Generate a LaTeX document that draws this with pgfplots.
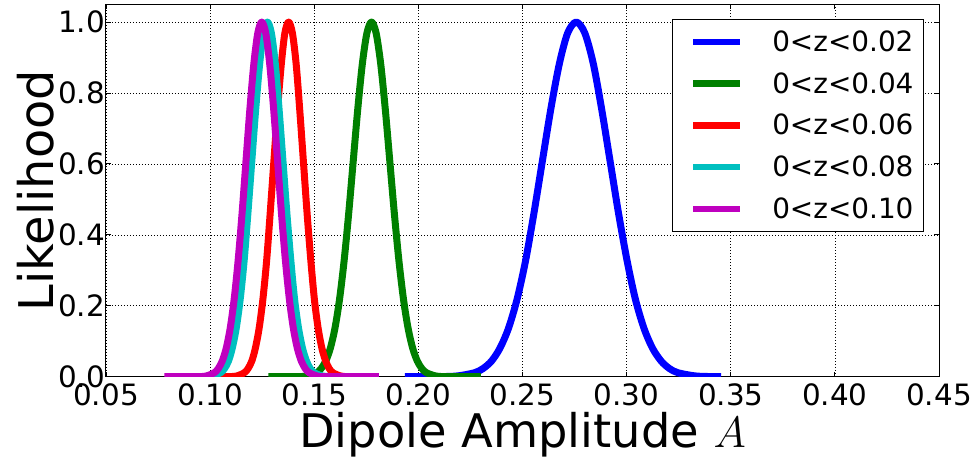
\documentclass[border=0pt]{standalone}
\usepackage{graphicx}
\usepackage{fontspec}
\setmainfont{DejaVu Sans}
\usepackage{pgfplots}
\pgfplotsset{compat=1.18}
\definecolor{mplblue}{rgb}{0,0,1}
\definecolor{mplgreen}{rgb}{0,0.5,0}
\definecolor{mplred}{rgb}{1,0,0}
\definecolor{mplcyan}{rgb}{0,0.75,0.75}
\definecolor{mplmag}{rgb}{0.75,0,0.75}
\begin{document}
\begin{tikzpicture}
\path[use as bounding box] (-106bp,-80.3bp) rectangle (874bp,376.7bp);
\begin{axis}[
  at={(0,0)}, anchor=south west,
  scale only axis, width=833bp, height=372.4bp,
  xmin=0.05, xmax=0.45, ymin=0, ymax=1.05,
  xtick={0.05,0.1,0.15,0.2,0.25,0.3,0.35,0.4,0.45},
  ytick={0,0.2,0.4,0.6,0.8,1.0},
  /pgf/number format/assume math mode=true,
  tick label style={font=\fontsize{29.5}{35}\selectfont},
  xticklabel style={/pgf/number format/.cd, fixed, fixed zerofill, precision=2, /tikz/.cd, anchor=north, inner sep=0pt, yshift=-6.8bp},
  yticklabel style={/pgf/number format/.cd, fixed, fixed zerofill, precision=1, /tikz/.cd, anchor=east, inner sep=0pt, xshift=-1bp},
  grid=major,
  grid style={black, line width=0.6bp, dash pattern=on 1bp off 2bp},
  tick align=inside, xtick pos=both, ytick pos=both,
  major tick length=5bp,
  tick style={black, line width=0.8bp},
  axis line style={black, line width=1bp},
  xlabel={Dipole Amplitude \resizebox{!}{30bp}{$A$}},
  ylabel={Likelihood},
  xlabel style={font=\fontsize{46.5}{52}\selectfont, at={(axis description cs:0.5,-0.189)}, anchor=base},
  ylabel style={font=\fontsize{48}{54}\selectfont, at={(axis description cs:-0.0625,0.5)}, anchor=base, rotate=0},
  legend style={at={(axis description cs:0.982,0.9605)}, anchor=north east,
    draw=black, line width=1bp, fill=white,
    inner xsep=10bp, inner ysep=11bp,
    font=\fontsize{28}{34}\selectfont,
    nodes={inner sep=0pt, text height=21bp, text depth=2bp, anchor=west},
    row sep=18.7bp, column sep=29bp},
  legend cell align=left,
  legend image code/.code={\path (0bp,0bp); \draw[#1, line width=6.5bp] (7bp,0bp) -- (54bp,0bp);},
  every axis plot/.append style={line width=7bp, line join=round, smooth},
]
\addplot[mplblue] coordinates {(0.1935,0) (0.2106,0.0003) (0.2188,0.0022) (0.2269,0.0111) (0.2310,0.0228) (0.2351,0.0439) (0.2391,0.0796) (0.2432,0.1353) (0.2473,0.2163) (0.2514,0.3247) (0.2554,0.4578) (0.2595,0.6065) (0.2636,0.7548) (0.2677,0.8825) (0.2717,0.9692) (0.2758,1.0) (0.2799,0.9692) (0.2840,0.8825) (0.2880,0.7548) (0.2921,0.6065) (0.2962,0.4578) (0.3003,0.3247) (0.3043,0.2163) (0.3084,0.1353) (0.3125,0.0796) (0.3166,0.0439) (0.3206,0.0228) (0.3247,0.0111) (0.3329,0.0022) (0.3410,0.0003) (0.3454,0)};
\addlegendentry{0<z<0.02}
\addplot[mplgreen] coordinates {(0.1280,0) (0.1423,0.0003) (0.1467,0.0022) (0.1511,0.0111) (0.1533,0.0228) (0.1555,0.0439) (0.1577,0.0796) (0.1599,0.1353) (0.1621,0.2163) (0.1643,0.3247) (0.1665,0.4578) (0.1687,0.6065) (0.1709,0.7548) (0.1731,0.8825) (0.1753,0.9692) (0.1775,1.0) (0.1797,0.9692) (0.1819,0.8825) (0.1841,0.7548) (0.1863,0.6065) (0.1885,0.4578) (0.1907,0.3247) (0.1929,0.2163) (0.1951,0.1353) (0.1973,0.0796) (0.1995,0.0439) (0.2017,0.0228) (0.2039,0.0111) (0.2083,0.0022) (0.2127,0.0003) (0.2300,0)};
\addlegendentry{0<z<0.04}
\addplot[mplred] coordinates {(0.1000,0) (0.1093,0.0003) (0.1129,0.0022) (0.1164,0.0111) (0.1182,0.0228) (0.1200,0.0439) (0.1217,0.0796) (0.1235,0.1353) (0.1253,0.2163) (0.1271,0.3247) (0.1288,0.4578) (0.1306,0.6065) (0.1324,0.7548) (0.1342,0.8825) (0.1359,0.9692) (0.1377,1.0) (0.1395,0.9692) (0.1413,0.8825) (0.1430,0.7548) (0.1448,0.6065) (0.1466,0.4578) (0.1484,0.3247) (0.1501,0.2163) (0.1519,0.1353) (0.1537,0.0796) (0.1555,0.0439) (0.1572,0.0228) (0.1590,0.0111) (0.1626,0.0022) (0.1661,0.0003) (0.1800,0)};
\addlegendentry{0<z<0.06}
\addplot[mplcyan] coordinates {(0.1000,0.0012) (0.1013,0.0022) (0.1050,0.0111) (0.1069,0.0228) (0.1088,0.0439) (0.1106,0.0796) (0.1125,0.1353) (0.1144,0.2163) (0.1163,0.3247) (0.1181,0.4578) (0.1200,0.6065) (0.1219,0.7548) (0.1238,0.8825) (0.1256,0.9692) (0.1275,1.0) (0.1294,0.9692) (0.1313,0.8825) (0.1331,0.7548) (0.1350,0.6065) (0.1369,0.4578) (0.1388,0.3247) (0.1406,0.2163) (0.1425,0.1353) (0.1444,0.0796) (0.1463,0.0439) (0.1481,0.0228) (0.1500,0.0111) (0.1538,0.0022) (0.1575,0.0003) (0.1600,0)};
\addlegendentry{0<z<0.08}
\addplot[mplmag] coordinates {(0.0780,0) (0.0944,0.0003) (0.0982,0.0022) (0.1020,0.0111) (0.1039,0.0228) (0.1058,0.0439) (0.1077,0.0796) (0.1096,0.1353) (0.1115,0.2163) (0.1134,0.3247) (0.1153,0.4578) (0.1172,0.6065) (0.1191,0.7548) (0.1210,0.8825) (0.1229,0.9692) (0.1248,1.0) (0.1267,0.9692) (0.1286,0.8825) (0.1305,0.7548) (0.1324,0.6065) (0.1343,0.4578) (0.1362,0.3247) (0.1381,0.2163) (0.1400,0.1353) (0.1419,0.0796) (0.1438,0.0439) (0.1457,0.0228) (0.1476,0.0111) (0.1514,0.0022) (0.1552,0.0003) (0.1810,0)};
\addlegendentry{0<z<0.10}
\end{axis}
\end{tikzpicture}
\end{document}
